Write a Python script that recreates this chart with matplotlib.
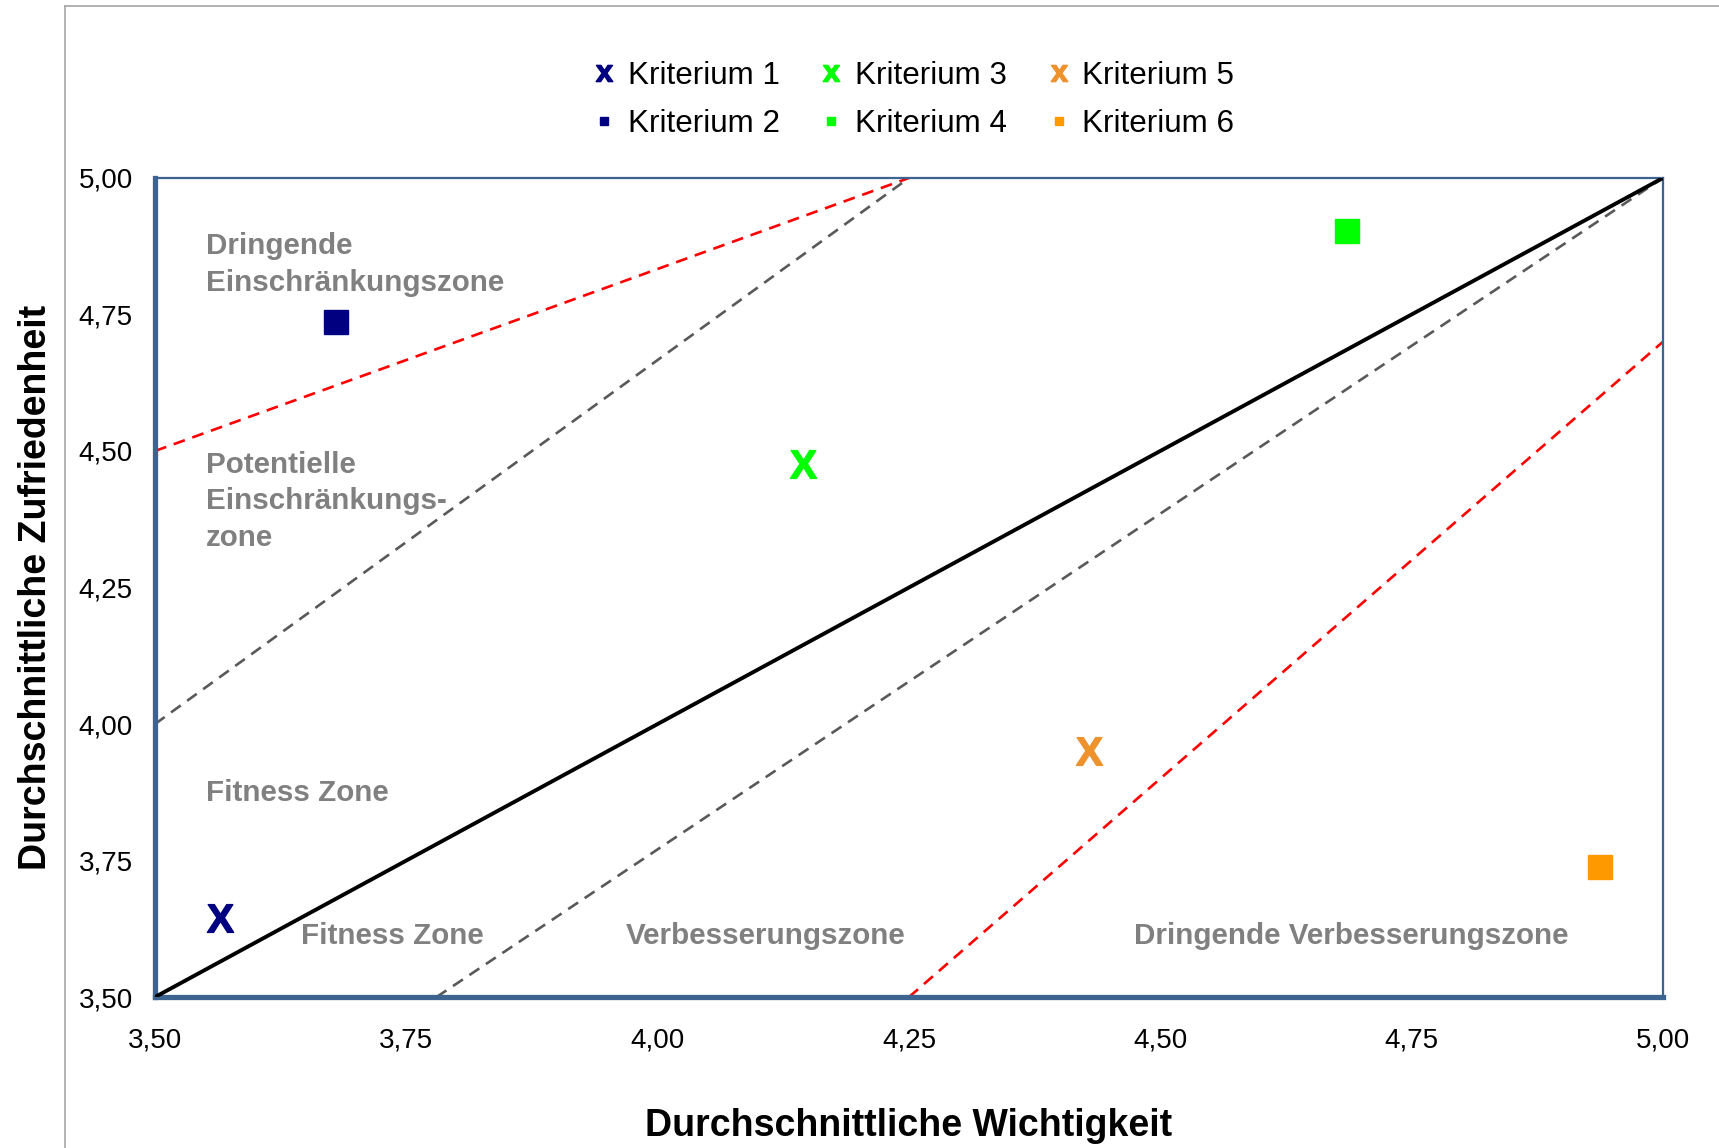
import numpy as np
import matplotlib.pyplot as plt
from matplotlib.lines import Line2D
from matplotlib.ticker import FuncFormatter

plt.rcParams['font.family'] = ['Liberation Sans', 'DejaVu Sans']
plt.rcParams['mathtext.fontset'] = 'custom'
plt.rcParams['mathtext.rm'] = 'Liberation Sans'
plt.rcParams['mathtext.bf'] = 'Liberation Sans:bold'

# Daten
kriterien = ['Kriterium 1', 'Kriterium 2', 'Kriterium 3',
             'Kriterium 4', 'Kriterium 5', 'Kriterium 6']
wichtigkeit = [3.565, 3.68, 4.145, 4.686, 4.429, 4.937]
zufriedenheit = [3.645, 4.737, 4.477, 4.903, 3.95, 3.739]
farben = ['#000080', '#000080', '#00FF00', '#00FF00', '#EE922E', '#FF9900']
marker_typ = ['X', 's', 'X', 's', 'X', 's']

# Zonengrenzen (Start- und Endpunkt)
diagonale_x = [3.5, 5.0]
diagonale_y = [3.5, 5.0]
grau_oben_x = [3.5, 4.25]
grau_oben_y = [4.0, 5.0]
grau_unten_x = [3.78, 5.0]
grau_unten_y = [3.5, 5.0]
rot_oben_x = [3.5, 4.25]
rot_oben_y = [4.5, 5.0]
rot_unten_x = [4.25, 5.0]
rot_unten_y = [3.5, 4.7]

ticks = [3.5, 3.75, 4.0, 4.25, 4.5, 4.75, 5.0]

fig = plt.figure(figsize=(17.19, 11.48), dpi=100)
ax = fig.add_axes([0.0902, 0.1315, 0.8772, 0.7135])

# äußerer Rahmen
fig.add_artist(Line2D([0.0378, 0.0378], [0, 0.9948], color='#A6A6A6', lw=1.2))
fig.add_artist(Line2D([0.0378, 1.0], [0.9948, 0.9948], color='#A6A6A6', lw=1.2))

# 1. Linien
ax.plot(diagonale_x, diagonale_y, color='black', lw=2.8, zorder=3)
ax.plot(grau_oben_x, grau_oben_y, color='#595959', lw=1.9, dashes=(4.5, 3))
ax.plot(grau_unten_x, grau_unten_y, color='#595959', lw=1.9, dashes=(4.5, 3))
ax.plot(rot_oben_x, rot_oben_y, color='#FF0000', lw=1.9, dashes=(4.5, 3))
ax.plot(rot_unten_x, rot_unten_y, color='#FF0000', lw=1.9, dashes=(4.5, 3))

# 2. Punkte
handles = []
for name, x, y, c, m in zip(kriterien, wichtigkeit, zufriedenheit, farben, marker_typ):
    if m == 'X':
        ax.plot(x, y, marker=r'$\mathbf{X}$', color=c, markersize=20, ls='none', zorder=4)
        handles.append(Line2D([], [], marker=r'$\mathbf{x}$', color=c, markersize=12, ls='none', label=name))
    else:
        ax.plot(x, y, marker='s', color=c, markersize=17.5, ls='none', zorder=4)
        handles.append(Line2D([], [], marker='s', color=c, markersize=6, ls='none', label=name))

# 3. Zonentexte
grau = '#808080'
zt = dict(color=grau, fontsize=21.3, fontweight='bold', ha='left', va='center', linespacing=1.39)
ax.text(3.551, 4.842, 'Dringende\nEinschränkungszone', **zt)
ax.text(3.551, 4.408, 'Potentielle\nEinschränkungs-\nzone', **zt)
ax.text(3.551, 3.874, 'Fitness Zone', **zt)
ax.text(3.645, 3.612, 'Fitness Zone', **zt)
ax.text(3.968, 3.612, 'Verbesserungszone', **zt)
ax.text(4.474, 3.612, 'Dringende Verbesserungszone', **zt)

# 4. Achsen
ax.set_xlim(3.5, 5.0)
ax.set_ylim(3.5, 5.0)
ax.set_xticks(ticks)
ax.set_yticks(ticks)
fmt = FuncFormatter(lambda v, p: f'{v:.2f}'.replace('.', ','))
ax.xaxis.set_major_formatter(fmt)
ax.yaxis.set_major_formatter(fmt)
ax.tick_params(length=0, labelsize=20)
ax.tick_params(axis='x', pad=22)
ax.tick_params(axis='y', pad=16)

for s in ['left', 'bottom']:
    ax.spines[s].set_linewidth(3.8)
    ax.spines[s].set_color('#3D6491')
for s in ['top', 'right']:
    ax.spines[s].set_linewidth(1.6)
    ax.spines[s].set_color('#3D6491')

ax.set_xlabel('Durchschnittliche Wichtigkeit', fontsize=27, fontweight='bold', labelpad=39)
ax.set_ylabel('Durchschnittliche Zufriedenheit', fontsize=27, fontweight='bold', labelpad=18)

fig.legend(handles=handles, ncol=3, loc='center', bbox_to_anchor=(0.531, 0.913),
           frameon=False, fontsize=22.6, handletextpad=0.35, columnspacing=1.25,
           labelspacing=0.56, handlelength=0.8)

plt.savefig('out.png', dpi=100)
